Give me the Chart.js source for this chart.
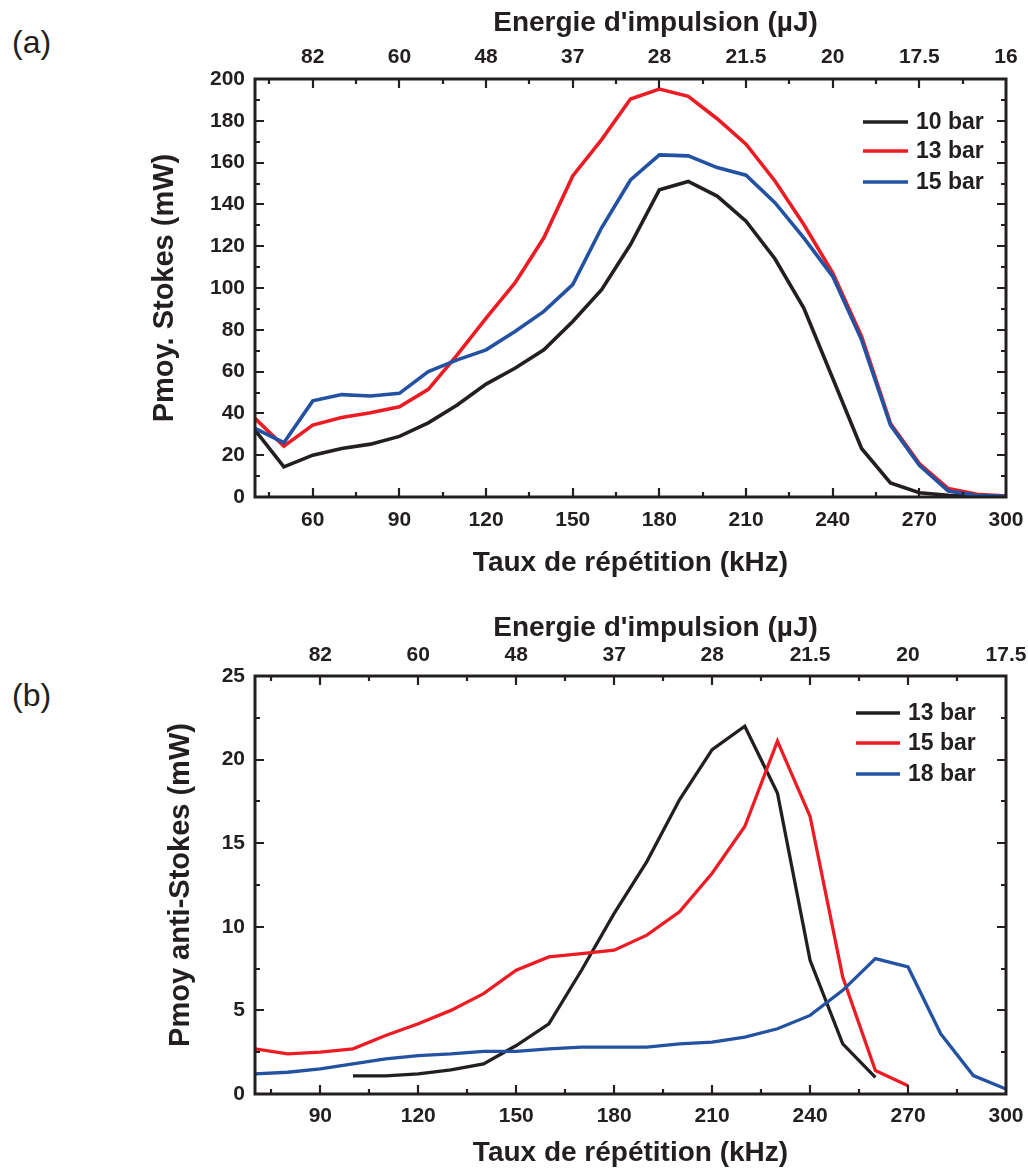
<!DOCTYPE html>
<html><head><meta charset="utf-8">
<script src="https://cdn.jsdelivr.net/npm/chart.js@4.4.0/dist/chart.umd.min.js"></script>
<style>
html,body{margin:0;padding:0;background:#fff;}
#wrap{position:relative;width:1028px;height:1171px;overflow:hidden;}
.tag{position:absolute;font-family:"Liberation Sans",Arial,sans-serif;font-size:32px;line-height:36px;color:#231f20;}
.box{position:absolute;left:0;width:1028px;}
</style></head><body>
<div id="wrap">
<div class="tag" style="left:12px;top:24px">(a)</div>
<div class="tag" style="left:12px;top:677px">(b)</div>
<div class="box" style="top:0;height:590px"><canvas id="ca" width="1028" height="590"></canvas></div>
<div class="box" style="top:590px;height:581px"><canvas id="cb" width="1028" height="581"></canvas></div>
</div>
<script>
// ---------- data (a) ----------
const rateA = [40,50,60,70,80,90,100,110,120,130,140,150,160,170,180,190,200,210,220,230,240,250,260,270,280,290,300];
const stokes10bar = [32,14.4,20,23.2,25.3,29,35.5,44,54,61.6,70.4,84,99.2,120.8,147,151,144,132,114,90.4,56.8,23.2,6.7,2,0.8,0.3,0];
const stokes13bar = [37.6,24.3,34.4,38,40.3,43.2,51.5,68,85.6,102.4,124,153.6,171,190.4,195.2,191.7,181,168.8,151.2,130.4,107.2,76.8,35.2,16,4,1.3,0.5];
const stokes15bar = [32.8,26,46,49,48.3,49.6,60,65.6,70.4,79.2,88.8,101.6,128.8,151.7,163.7,163.2,157.6,154,140.8,124,105.6,75.2,34.4,15.2,2.9,0.8,0.3];
const rateTicksA = [60,90,120,150,180,210,240,270,300];
const energyLabelsA = ['82','60','48','37','28','21.5','20','17.5','16'];
const labelsA = ['10 bar','13 bar','15 bar'];

// ---------- data (b) ----------
const rateB13 = [100,110,120,130,140,150,160,170,180,190,200,210,220,230,240,250,260];
const anti13bar = [1.08,1.08,1.2,1.44,1.8,2.9,4.2,7.4,10.8,13.9,17.6,20.6,22.0,18.0,8.0,3.0,1.0];
const rateB15 = [70,80,90,100,110,120,130,140,150,160,170,180,190,200,210,220,230,240,250,260,270];
const anti15bar = [2.7,2.4,2.5,2.7,3.5,4.2,5.0,6.0,7.4,8.2,8.4,8.6,9.5,10.9,13.2,16.0,21.1,16.6,7.0,1.4,0.5];
const rateB18 = [70,80,90,100,110,120,130,140,150,160,170,180,190,200,210,220,230,240,250,260,270,280,290,300];
const anti18bar = [1.2,1.3,1.5,1.8,2.1,2.3,2.4,2.55,2.55,2.7,2.8,2.8,2.8,3.0,3.1,3.4,3.9,4.7,6.2,8.1,7.6,3.6,1.1,0.3];
const rateTicksB = [90,120,150,180,210,240,270,300];
const energyLabelsB = ['82','60','48','37','28','21.5','20','17.5'];
const labelsB = ['13 bar','15 bar','18 bar'];

const COLORS = ['#231f20','#ed1c24','#2452a2'];
const FONT = '"Liberation Sans", Arial, sans-serif';
const INK = '#231f20';
const TOP_TITLE = "Energie d'impulsion (µJ)";

function pts(xs, ys){ return xs.map((x,i)=>({x:x, y:ys[i]})); }

const frameTicks = {
  id:'frameTicks',
  afterDatasetsDraw(chart, args, o){
    const {ctx, chartArea:a, scales} = chart;
    const xs = scales.x, ys = scales.y;
    ctx.save();
    ctx.strokeStyle = INK; ctx.lineWidth = 2.2; ctx.lineCap='butt';
    ctx.beginPath();
    for(let v = xs.min; v <= xs.max; v += 5){
      if (v===xs.min || v===xs.max) continue;
      let len = 0;
      if (v % 30 === 0) len = 9; else if (v % 15 === 0) len = 5;
      if (!len) continue;
      const p = Math.round(xs.getPixelForValue(v));
      ctx.moveTo(p, a.bottom); ctx.lineTo(p, a.bottom - len);
      ctx.moveTo(p, a.top); ctx.lineTo(p, a.top + len);
    }
    const st = o.yStep;
    for(let v = ys.min + st/2; v < ys.max; v += st/2){
      const major = Math.abs((v/st) - Math.round(v/st)) < 1e-6;
      const len = major ? 9 : 5;
      const p = Math.round(ys.getPixelForValue(v));
      ctx.moveTo(a.left, p); ctx.lineTo(a.left + len, p);
      ctx.moveTo(a.right, p); ctx.lineTo(a.right - len, p);
    }
    ctx.stroke();
    ctx.lineWidth = 3;
    ctx.strokeRect(a.left, a.top, a.right - a.left, a.bottom - a.top);
    // top axis title
    ctx.fillStyle = INK;
    ctx.font = 'bold 28px ' + FONT;
    ctx.textAlign = 'center'; ctx.textBaseline = 'middle';
    ctx.fillText(TOP_TITLE, (a.left + a.right) / 2 + o.titleShift, o.titleY);
    // legend
    ctx.font = 'bold 23px ' + FONT;
    ctx.textAlign = 'left';
    chart.data.datasets.forEach((ds, i) => {
      const y = o.legY[i];
      ctx.strokeStyle = ds.borderColor; ctx.lineWidth = 3.6;
      ctx.beginPath(); ctx.moveTo(o.legX0, y); ctx.lineTo(o.legX1, y); ctx.stroke();
      ctx.fillText(ds.label, o.legTX, y + 1);
    });
    ctx.restore();
  }
};

function makeChart(id, cfg){
  const tickFont = {family: FONT, size: 21, weight: 'bold'};
  const titleFont = {family: FONT, size: 28, weight: 'bold'};
  return new Chart(document.getElementById(id), {
    type: 'line',
    data: { datasets: cfg.series.map((s, i) => ({
      label: cfg.labels[i], data: pts(s.x, s.y), borderColor: COLORS[i],
      borderWidth: cfg.lw, pointRadius: 0, tension: 0, fill: false, order: 3 - i,
      borderCapStyle: 'butt', borderJoinStyle: 'miter'
    })) },
    options: {
      responsive: false, animation: false, devicePixelRatio: 1,
      layout: { padding: { left: 0, right: 22, top: 0, bottom: 0 } },
      plugins: { legend: { display: false }, tooltip: { enabled: false },
        frameTicks: { yStep: cfg.yStep, legX0: cfg.leg[0], legX1: cfg.leg[1], legTX: cfg.leg[2], legY: cfg.legY,
          titleShift: 25, titleY: cfg.topTitleY } },
      scales: {
        x: {
          type: 'linear', position: 'bottom', min: cfg.xmin, max: 300,
          grid: { display: false, drawTicks: false }, border: { display: false },
          afterBuildTicks: s => { s.ticks = cfg.xticks.map(v => ({value: v})); },
          ticks: { font: tickFont, color: INK, padding: cfg.botPad, maxRotation: 0, autoSkip: false },
          title: { display: true, text: 'Taux de répétition (kHz)', font: titleFont, color: INK, padding: { top: 0, bottom: cfg.botTitlePad } },
          afterFit: s => { s.height = cfg.botH; s.paddingLeft = 0; s.paddingRight = 0; }
        },
        x2: {
          type: 'linear', position: 'top', min: cfg.xmin, max: 300,
          grid: { display: false, drawTicks: false }, border: { display: false },
          afterBuildTicks: s => { s.ticks = cfg.xticks.map(v => ({value: v})); },
          ticks: { font: tickFont, color: INK, padding: cfg.topPad, maxRotation: 0, autoSkip: false,
            callback: (v) => cfg.energy[cfg.xticks.indexOf(v)] },
          title: { display: false },
          afterFit: s => { s.height = cfg.topH; s.paddingLeft = 0; s.paddingRight = 0; }
        },
        y: {
          type: 'linear', position: 'left', min: 0, max: cfg.ymax,
          grid: { display: false, drawTicks: false }, border: { display: false },
          ticks: { stepSize: cfg.yStep, font: tickFont, color: INK, padding: cfg.yPad },
          title: { display: true, text: cfg.ytitle, font: {family: FONT, size: 29, weight: 'bold'}, color: INK, padding: { top: cfg.yTitlePad, bottom: 0 } },
          afterFit: s => { s.width = 255; s.paddingTop = 0; s.paddingBottom = 0; }
        }
      }
    },
    plugins: [frameTicks]
  });
}

makeChart('ca', {
  series: [{x: rateA, y: stokes10bar}, {x: rateA, y: stokes13bar}, {x: rateA, y: stokes15bar}],
  labels: labelsA, xmin: 40, ymax: 200, yStep: 20, xticks: rateTicksA, energy: energyLabelsA,
  ytitle: 'Pmoy. Stokes (mW)', lw: 3.6,
  topH: 79, botH: 93, topPad: 9, topTitleY: 23, botPad: 11, botTitlePad: 10, yPad: 10, yTitlePad: 148,
  leg: [863, 908, 916], legY: [122, 151, 182]
});
makeChart('cb', {
  series: [{x: rateB13, y: anti13bar}, {x: rateB15, y: anti15bar}, {x: rateB18, y: anti18bar}],
  labels: labelsB, xmin: 70, ymax: 25, yStep: 5, xticks: rateTicksB, energy: energyLabelsB,
  ytitle: 'Pmoy anti-Stokes (mW)', lw: 3.3,
  topH: 86, botH: 77, topPad: 8, topTitleY: 38, botPad: 10, botTitlePad: 1, yPad: 10, yTitlePad: 164,
  leg: [856, 900, 908], legY: [123, 153, 184]
});
</script>
</body></html>
